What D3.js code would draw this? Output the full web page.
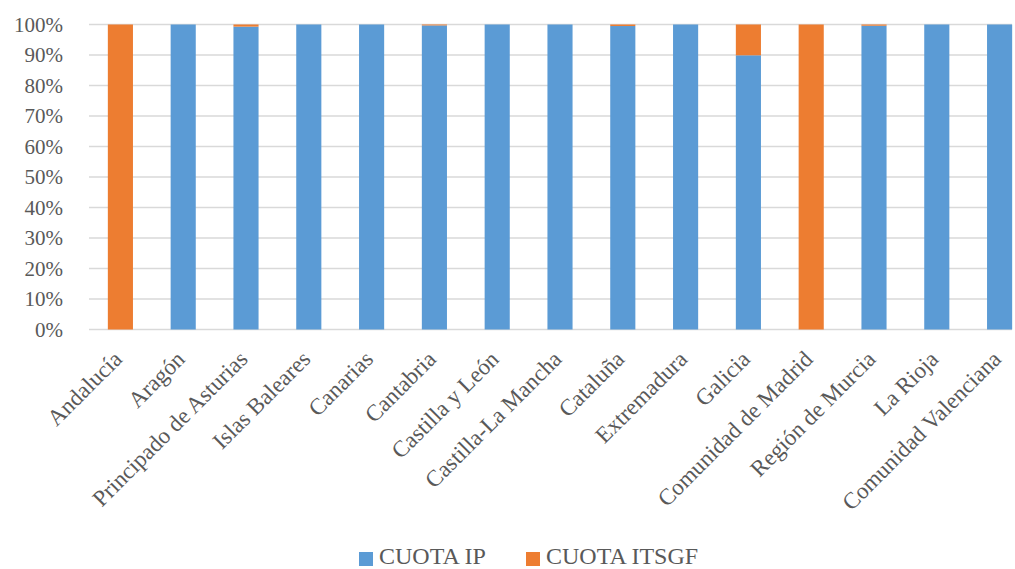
<!DOCTYPE html>
<html>
<head>
<meta charset="utf-8">
<script src="https://cdn.jsdelivr.net/npm/d3@7"></script>
<style>
  body { margin: 0; background: #fff; }
  svg text { font-family: "Liberation Serif", "DejaVu Serif", serif; fill: #595959; }
</style>
</head>
<body>
<div id="chart"></div>
<script>
var regions = ["Andalucía", "Aragón", "Principado de Asturias", "Islas Baleares", "Canarias",
  "Cantabria", "Castilla y León", "Castilla-La Mancha", "Cataluña", "Extremadura", "Galicia",
  "Comunidad de Madrid", "Región de Murcia", "La Rioja", "Comunidad Valenciana"];
var cuotaIP =    [0, 100, 99.3, 100, 100, 99.7, 100, 100, 99.5, 100, 89.9, 0, 99.6, 100, 100];
var cuotaITSGF = [100, 0, 0.7, 0, 0, 0.3, 0, 0, 0.5, 0, 10.1, 100, 0.4, 0, 0];
var seriesNames = ["CUOTA IP", "CUOTA ITSGF"];
var colors = ["#5B9BD5", "#ED7D31"];
var yTicks = [0, 10, 20, 30, 40, 50, 60, 70, 80, 90, 100];

var W = 1015, H = 569;
var margin = {top: 24.5, left: 89};
var height = 305;
var gridWidth = 923;

var data = regions.map(function(r, i) {
  return {region: r, ip: cuotaIP[i], itsgf: cuotaITSGF[i]};
});
var stack = d3.stack().keys(["ip", "itsgf"]).offset(d3.stackOffsetExpand)(data);

var svg = d3.select("#chart").append("svg").attr("width", W).attr("height", H);
var g = svg.append("g").attr("transform", "translate(" + margin.left + "," + margin.top + ")");

// plot area runs a little past the right edge of the picture
var x = d3.scaleBand().domain(regions).range([0, 942]).paddingInner(0.6).paddingOuter(0.3);
var y = d3.scaleLinear().domain([0, 1]).range([height, 0]);

// gridlines
g.selectAll("line.grid").data(yTicks).enter().append("line")
  .attr("x1", 0).attr("x2", gridWidth)
  .attr("y1", function(d) { return y(d / 100); })
  .attr("y2", function(d) { return y(d / 100); })
  .attr("stroke", "#d9d9d9").attr("stroke-width", 1.3);

g.selectAll("text.ytick").data(yTicks).enter().append("text")
  .attr("x", -26).attr("y", function(d) { return y(d / 100); })
  .attr("dy", "0.35em").attr("text-anchor", "end")
  .style("font-size", "21px")
  .text(function(d) { return d + "%"; });

g.selectAll("g.series").data(stack).enter().append("g")
  .attr("fill", function(d, i) { return colors[i]; })
  .selectAll("rect").data(function(d) { return d; }).enter().append("rect")
  .attr("x", function(d) { return x(d.data.region); })
  .attr("y", function(d) { return y(d[1]); })
  .attr("height", function(d) { return y(d[0]) - y(d[1]); })
  .attr("width", x.bandwidth());

// category labels
g.selectAll("text.xlab").data(regions).enter().append("text")
  .attr("text-anchor", "end")
  .attr("transform", function(d) {
    return "translate(" + (x(d) + x.bandwidth() / 2 + 3) + "," + (height + 31) + ") rotate(-45)";
  })
  .style("font-size", "23px")
  .text(function(d) { return d; });

// legend
var legend = svg.append("g");
var lx = [359, 526];
seriesNames.forEach(function(s, i) {
  legend.append("rect").attr("x", lx[i]).attr("y", 552).attr("width", 14).attr("height", 14).attr("fill", colors[i]);
  legend.append("text").attr("x", lx[i] + 20).attr("y", 564).style("font-size", "24px").text(s);
});
</script>
</body>
</html>
